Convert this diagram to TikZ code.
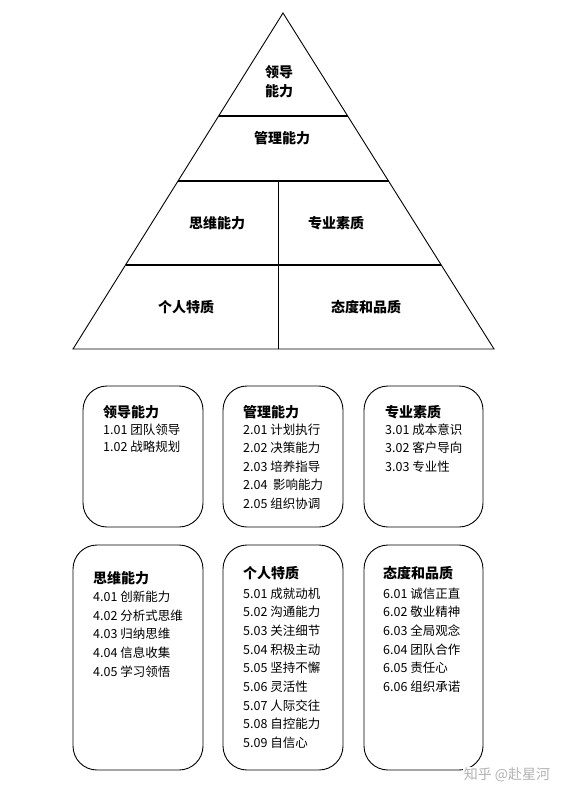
\documentclass[tikz,border=0pt]{standalone}
\usepackage{fontspec}
\setmainfont{Noto Sans CJK SC}
\usetikzlibrary{calc}

\tikzset{
  tier/.style={line width=1.6pt},
  lvl/.style={font=\bfseries\fontsize{14}{19}\selectfont, align=center},
  card/.style={draw, line width=0.9pt, rounded corners=24pt},
  head/.style={anchor=west, inner sep=0pt, font=\bfseries\fontsize{14}{16}\selectfont},
  item/.style={anchor=west, inner sep=0pt, font=\fontsize{12.5}{14}\selectfont},
}

\begin{document}
\begin{tikzpicture}[x=1pt, y=-1pt]
            \useasboundingbox (0,0) rectangle (576,798);
            % pyramid
            \coordinate (apex) at (283,13);
            \coordinate (bl) at (73,349);
            \coordinate (br) at (494,349);
            \draw[line width=0.9pt] (apex) -- (bl) -- (br) -- cycle;
            \foreach \t in {0.307,0.5,0.75}
            \draw[tier] ($(apex)!\t!(bl)$) -- ($(apex)!\t!(br)$);
            \coordinate (mtop) at (278,181);
            \coordinate (mbot) at (278,349);
            \draw[line width=0.9pt] (mtop) -- (mbot);
            \node[lvl] (lead) at (279,82) {领导\\能力};
            \node[lvl] (mgmt) at (282,138) {管理能力};
            \node[lvl] (think) at (217,223) {思维能力};
            \node[lvl] (prof) at (336,223) {专业素质};
            \node[lvl] (pers) at (186,307) {个人特质};
            \node[lvl] (attd) at (366,307) {态度和品质};
            % first row of cards
            \node[card, minimum width=120pt, minimum height=141pt] (c1) at (143,456.5) {};
            \node[card, minimum width=120pt, minimum height=141pt] (c2) at (283,456.5) {};
            \node[card, minimum width=119pt, minimum height=141pt] (c3) at (423.5,456.5) {};
            \node[head] (h1) at (103,412) {领导能力};
            \foreach \s [count=\k] in {1.01 团队领导, 1.02 战略规划}
            \node[item] (i1-\k) at (103,413+16.8*\k) {\s};
            \node[head] (h2) at (243,412) {管理能力};
            \foreach \s [count=\k] in {2.01 计划执行, 2.02 决策能力, 2.03 培养指导,
                                       2.04\ \ 影响能力, 2.05 组织协调}
            \node[item] (i2-\k) at (243,411+18.5*\k) {\s};
            \node[head] (h3) at (385,412) {专业素质};
            \foreach \s [count=\k] in {3.01 成本意识, 3.02 客户导向, 3.03 专业性}
            \node[item] (i3-\k) at (385,411+18.5*\k) {\s};
            % second row of cards
            \node[card, minimum width=130pt, minimum height=225pt] (c4) at (138,657.5) {};
            \node[card, minimum width=120pt, minimum height=225pt] (c5) at (283,657.5) {};
            \node[card, minimum width=119pt, minimum height=225pt] (c6) at (423.5,657.5) {};
            \node[head] (h4) at (93,578) {思维能力};
            \foreach \s [count=\k] in {4.01 创新能力, 4.02 分析式思维, 4.03 归纳思维,
                                       4.04 信息收集, 4.05 学习领悟}
            \node[item] (i4-\k) at (93,578+18.7*\k) {\s};
            \node[head] (h5) at (243,573) {个人特质};
            \foreach \s [count=\k] in {5.01 成就动机, 5.02 沟通能力, 5.03 关注细节,
                                       5.04 积极主动, 5.05 坚持不懈, 5.06 灵活性,
                                       5.07 人际交往, 5.08 自控能力, 5.09 自信心}
            \node[item] (i5-\k) at (243,574.6+18.7*\k) {\s};
            \node[head] (h6) at (383,573) {态度和品质};
            \foreach \s [count=\k] in {6.01 诚信正直, 6.02 敬业精神, 6.03 全局观念,
                                       6.04 团队合作, 6.05 责任心, 6.06 组织承诺}
            \node[item] (i6-\k) at (383,574.6+18.7*\k) {\s};
            \node[text=black!30, fill=white, inner sep=1pt, font=\fontsize{14}{16}\selectfont]
                (mark) at (507,775) {知乎 @赴星河};
\end{tikzpicture}
\end{document}
